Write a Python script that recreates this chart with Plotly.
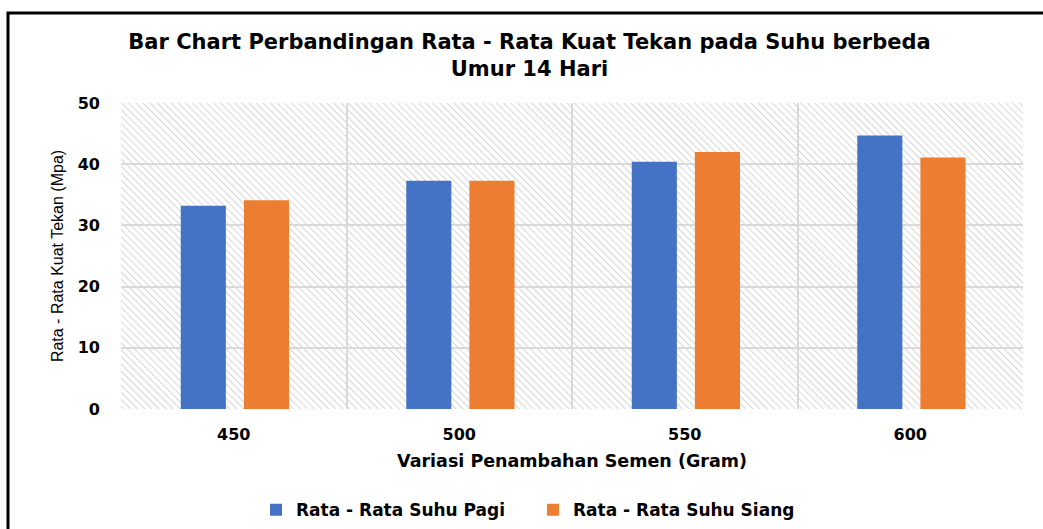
import plotly.graph_objects as go
import base64

categories = ["450", "500", "550", "600"]
pagi = [33.2, 37.3, 40.4, 44.7]
siang = [34.1, 37.3, 42.0, 41.1]
series_names = ["Rata - Rata Suhu Pagi", "Rata - Rata Suhu Siang"]
y_ticks = [0, 10, 20, 30, 40, 50]

W, H = 1043, 529
ML, MR, MT, MB = 121, 20, 103, 120
PW, PH = W - ML - MR, H - MT - MB

BLUE = "#4472C4"
ORANGE = "#ED7D31"
GRID = "#D9D9D9"
WIDE = "DejaVu Sans, Verdana, sans-serif"
BASE = "Liberation Sans, Arial, sans-serif"

# hatched background for the plot area
svg = (
    f'<svg xmlns="http://www.w3.org/2000/svg" width="{PW}" height="{PH}" viewBox="0 0 {PW} {PH}" preserveAspectRatio="none">'
    '<defs><pattern id="h" width="5" height="5" patternUnits="userSpaceOnUse" patternTransform="rotate(-45)">'
    '<rect width="5" height="5" fill="white"/>'
    '<line x1="0" y1="0" x2="0" y2="5" stroke="#CCCCCC" stroke-width="1.6"/></pattern></defs>'
    f'<rect width="{PW}" height="{PH}" fill="url(#h)"/></svg>'
)
svg_uri = "data:image/svg+xml;base64," + base64.b64encode(svg.encode()).decode()

fig = go.Figure()
fig.add_trace(go.Bar(x=categories, y=pagi, name=series_names[0],
                     marker=dict(color=BLUE, line=dict(width=0)),
                     width=0.2, offset=-0.235))
fig.add_trace(go.Bar(x=categories, y=siang, name=series_names[1],
                     marker=dict(color=ORANGE, line=dict(width=0)),
                     width=0.2, offset=0.045))

fig.update_layout(
    width=W, height=H,
    margin=dict(l=ML, r=MR, t=MT, b=MB, autoexpand=False),
    barmode="overlay",
    paper_bgcolor="white",
    plot_bgcolor="rgba(0,0,0,0)",
    font=dict(family=BASE, color="black"),
    title=dict(
        text="Bar Chart Perbandingan Rata - Rata Kuat Tekan pada Suhu berbeda<br>Umur 14 Hari",
        x=529.5 / W, xanchor="center", y=0.907, yanchor="middle",
        font=dict(size=21, family=WIDE, color="black", weight="bold"),
    ),
    xaxis=dict(
        type="category",
        tickson="boundaries",
        showgrid=True, gridcolor=GRID, gridwidth=2,
        showline=False, zeroline=False,
        ticks="", ticklabelstandoff=14,
        tickfont=dict(size=16, family=WIDE, color="black", weight="bold"),
        title=dict(text="Variasi Penambahan Semen (Gram)", standoff=11,
                   font=dict(size=17.5, family=WIDE, color="black", weight="bold")),
        range=[-0.5, 3.5],
        automargin=False,
    ),
    yaxis=dict(
        range=[0, 50], tickvals=y_ticks,
        showgrid=True, gridcolor=GRID, gridwidth=2,
        zeroline=False, showline=False, ticks="",
        ticklabelstandoff=20,
        tickfont=dict(size=16, family=WIDE, color="black", weight="bold"),
        title=dict(text="Rata - Rata Kuat Tekan (Mpa)", standoff=10,
                   font=dict(size=16, family=BASE, color="black")),
        automargin=False,
    ),
    legend=dict(
        orientation="h", x=(256 - ML) / PW, xanchor="left", y=-0.3306, yanchor="middle",
        font=dict(size=17, family=WIDE, color="black", weight="bold"),
        itemwidth=30, entrywidth=232,
    ),
    images=[dict(source=svg_uri, xref="x domain", yref="y domain", x=0, y=1,
                 sizex=1, sizey=1, xanchor="left", yanchor="top",
                 sizing="stretch", layer="below")],
    shapes=[dict(type="rect", xref="paper", yref="paper",
                 x0=(8 - ML) / PW, x1=1.2, y0=-1.0, y1=(H - MB - 13) / PH,
                 line=dict(color="black", width=3), fillcolor="rgba(0,0,0,0)",
                 layer="above")],
)

fig.write_html("out.html", config={"displayModeBar": False},
               post_script="document.body.style.margin='0px';")
